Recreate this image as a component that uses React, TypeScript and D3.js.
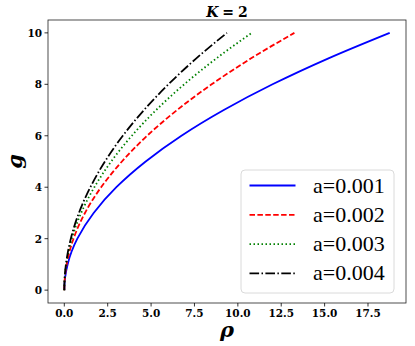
import React from "react";
import * as d3 from "d3";

// g values sampled along each curve (shared)
const gValues = [0, 0.25, 0.5, 1, 1.5, 2, 3, 4, 5, 6, 7, 8, 9, 10];

// rho for each a
const rhoA1 = [0, 0.012, 0.047, 0.19, 0.42, 0.75, 1.69, 3.0, 4.69, 6.75, 9.19, 12.0, 15.19, 18.75];
const rhoA2 = [0, 0.008, 0.033, 0.133, 0.3, 0.53, 1.19, 2.12, 3.32, 4.77, 6.5, 8.49, 10.74, 13.26];
const rhoA3 = [0, 0.007, 0.027, 0.108, 0.243, 0.43, 0.97, 1.73, 2.7, 3.89, 5.29, 6.91, 8.75, 10.8];
const rhoA4 = [0, 0.006, 0.023, 0.094, 0.21, 0.375, 0.84, 1.5, 2.34, 3.37, 4.59, 6.0, 7.59, 9.37];

const labels = ["a=0.001", "a=0.002", "a=0.003", "a=0.004"];
const xTicks = [0, 2.5, 5, 7.5, 10, 12.5, 15, 17.5];
const yTicks = [0, 2, 4, 6, 8, 10];

const colors = ["#0000ff", "#ff0000", "#008000", "#000000"];
const dashes = ["", "5.5 2.4", "1.5 2.5", "9.6 2.4 1.5 2.4"];

export default function App() {
  const width = 415;
  const height = 346;
  const left = 48, right = 406, top = 20, bottom = 303;

  const x = d3.scaleLinear().domain([-0.94, 19.69]).range([left, right]);
  const y = d3.scaleLinear().domain([-0.5, 10.5]).range([bottom, top]);

  const series = [rhoA1, rhoA2, rhoA3, rhoA4];

  const line = d3
    .line<number>()
    .x((d) => x(d))
    .y((_, i) => y(gValues[i]))
    .curve(d3.curveMonotoneY);

  const tickFont = "'DejaVu Serif', serif";

  // legend layout
  const lgX = 241, lgY = 170, lgW = 153, lgH = 123;
  const rowY = (i: number) => lgY + 15.5 + i * 29.3;

  return (
    <svg
      width={width}
      height={height}
      style={{ position: "absolute", left: 0, top: 0, background: "#fff" }}
    >
      <defs>
        <clipPath id="plotArea">
          <rect x={left} y={top} width={right - left} height={bottom - top} />
        </clipPath>
      </defs>

      {/* curves */}
      <g clipPath="url(#plotArea)">
        {series.map((s, i) => (
          <path
            key={i}
            d={line(s) || ""}
            fill="none"
            stroke={colors[i]}
            strokeWidth={1.8}
            strokeDasharray={dashes[i] || undefined}
          />
        ))}
      </g>

      {/* frame */}
      <rect
        x={left}
        y={top}
        width={right - left}
        height={bottom - top}
        fill="none"
        stroke="#222"
        strokeWidth={0.8}
      />

      {/* x ticks */}
      {xTicks.map((t) => (
        <g key={t}>
          <line x1={x(t)} x2={x(t)} y1={bottom} y2={bottom + 3.5} stroke="#000" strokeWidth={0.8} />
          <text
            x={x(t)}
            y={bottom + 14}
            textAnchor="middle"
            fontFamily={tickFont}
            fontWeight="bold"
            fontSize={10.5}
          >
            {d3.format(".1f")(t)}
          </text>
        </g>
      ))}

      {/* y ticks */}
      {yTicks.map((t) => (
        <g key={t}>
          <line x1={left - 3.5} x2={left} y1={y(t)} y2={y(t)} stroke="#000" strokeWidth={0.8} />
          <text
            x={left - 6}
            y={y(t) + 4}
            textAnchor="end"
            fontFamily={tickFont}
            fontWeight="bold"
            fontSize={10.5}
          >
            {t}
          </text>
        </g>
      ))}

      {/* title */}
      <text x={(left + right) / 2} y={17} textAnchor="middle" fontFamily={tickFont} fontWeight="bold" fontSize={14}>
        <tspan fontStyle="italic">K</tspan>
        <tspan dx={4}>=</tspan>
        <tspan dx={4}>2</tspan>
      </text>

      {/* axis labels */}
      <text
        x={(left + right) / 2}
        y={337}
        textAnchor="middle"
        fontFamily={tickFont}
        fontWeight="bold"
        fontStyle="italic"
        fontSize={21}
      >
        ρ
      </text>
      <text
        transform={`translate(22,${(top + bottom) / 2}) rotate(-90)`}
        textAnchor="middle"
        fontFamily={tickFont}
        fontWeight="bold"
        fontStyle="italic"
        fontSize={21}
      >
        g
      </text>

      {/* legend */}
      <rect
        x={lgX}
        y={lgY}
        width={lgW}
        height={lgH}
        rx={4}
        fill="#fff"
        fillOpacity={0.8}
        stroke="#d0d0d0"
        strokeWidth={0.8}
      />
      {labels.map((lab, i) => (
        <g key={lab}>
          <line
            x1={249.5}
            x2={295.5}
            y1={rowY(i)}
            y2={rowY(i)}
            stroke={colors[i]}
            strokeWidth={1.8}
            strokeDasharray={dashes[i] || undefined}
          />
          <text x={313} y={rowY(i) + 7} fontFamily="'Liberation Serif', serif" fontSize={22}>
            {lab}
          </text>
        </g>
      ))}
    </svg>
  );
}
